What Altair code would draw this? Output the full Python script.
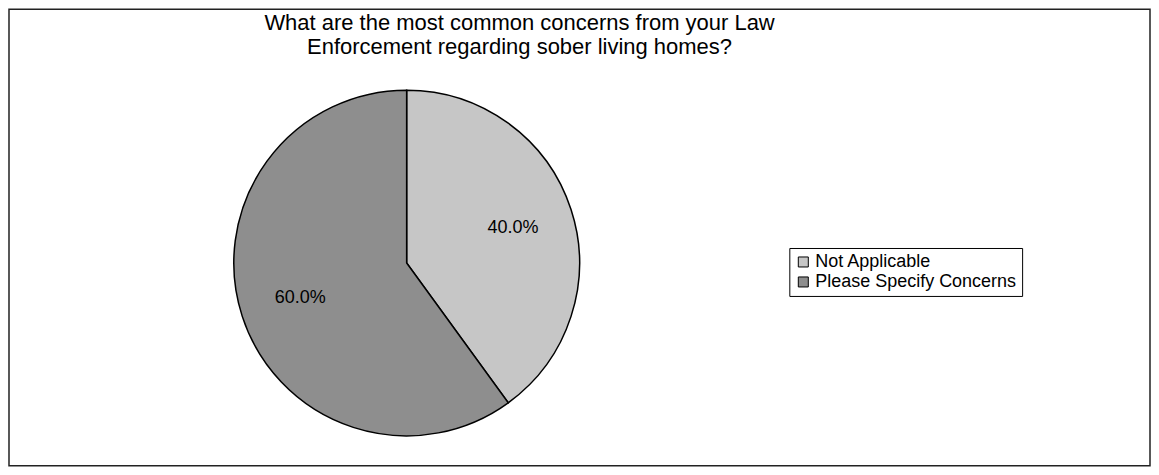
import altair as alt
import pandas as pd

categories = ["Not Applicable", "Please Specify Concerns"]
shares = [40.0, 60.0]
colors = ["#c6c6c6", "#8e8e8e"]

df = pd.DataFrame({"category": categories, "share": shares, "order": [0, 1]})

FONT = "Liberation Sans"
CX, CY = 398, 254

base = alt.Chart(df).encode(
    theta=alt.Theta("share:Q", stack=True),
    order=alt.Order("order:Q"),
)

pie = base.mark_arc(outerRadius=173, stroke="black", strokeWidth=1.5).encode(
    x=alt.value(CX),
    y=alt.value(CY),
    color=alt.Color(
        "category:N",
        scale=alt.Scale(domain=categories, range=colors),
        legend=alt.Legend(
            title=None,
            orient="none",
            legendX=781,
            legendY=239,
            direction="vertical",
            strokeColor="black",
            padding=5,
            labelFont=FONT,
            labelFontSize=18,
            labelColor="black",
            labelLimit=0,
            symbolType="square",
            symbolSize=100,
            symbolStrokeColor="black",
            symbolStrokeWidth=1,
            rowPadding=2,
            labelOffset=3,
        ),
    ),
)

labels = base.transform_calculate(
    label="format(datum.share / 100, '.1%')"
).mark_text(radius=112, font=FONT, fontSize=18, color="black").encode(
    x=alt.value(CX),
    y=alt.value(CY),
    text="label:N",
)

chart = (
    alt.layer(pie, labels)
    .properties(
        width=1142,
        height=457,
        autosize=alt.AutoSizeParams(type="none"),
        padding=1,
        view=alt.ViewBackground(stroke="#222222", strokeWidth=1.5, fill="white"),
        title=alt.TitleParams(
            text=[
                "What are the most common concerns from your Law",
                "Enforcement regarding sober living homes?",
            ],
            font=FONT,
            fontSize=22,
            fontWeight="normal",
            color="black",
            anchor="middle",
            dx=-60,
            offset=-50,
            lineHeight=24,
        ),
    )
    .configure(background="white")
)

chart.save("out.html", embed_options={"renderer": "svg", "actions": False})
